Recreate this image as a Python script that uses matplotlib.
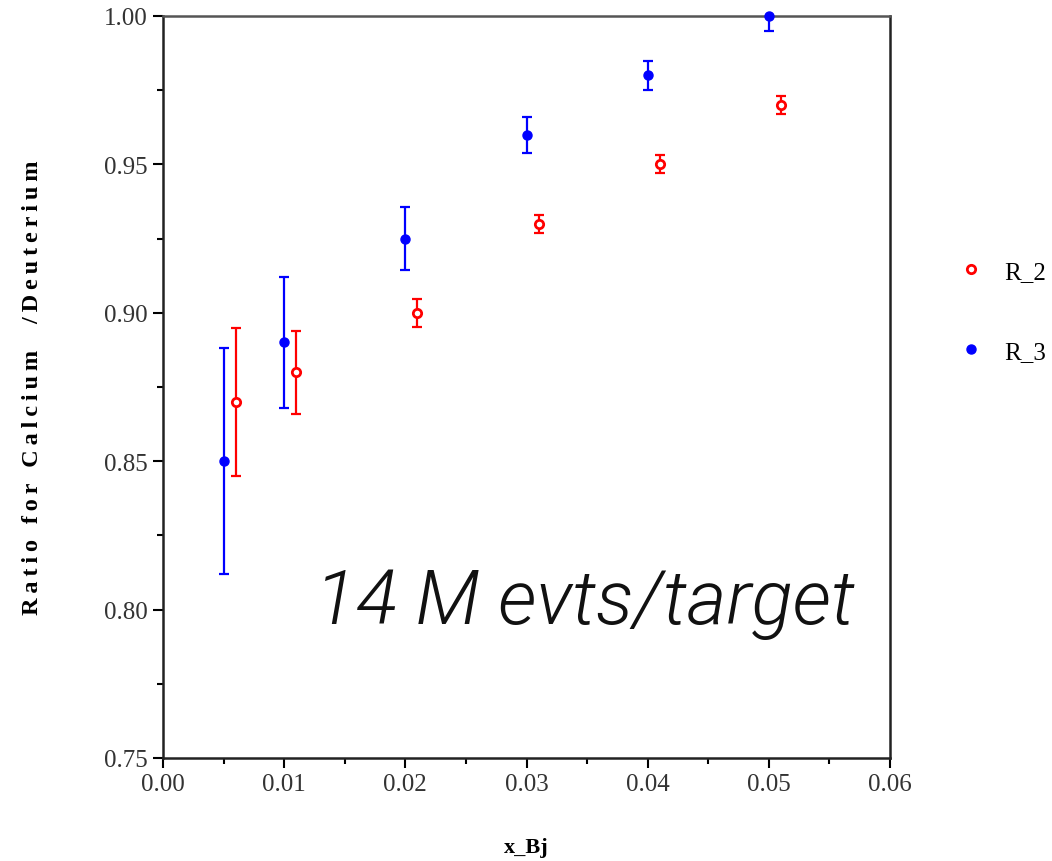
import numpy as np
import matplotlib.pyplot as plt
from matplotlib.ticker import MultipleLocator

# R_3 points (filled blue) and R_2 points (open red, shifted by 0.001 in x)
x_r3 = [0.005, 0.010, 0.020, 0.030, 0.040, 0.050]
y_r3 = [0.850, 0.890, 0.925, 0.960, 0.980, 1.000]
e_r3 = [0.038, 0.022, 0.0107, 0.006, 0.005, 0.005]

x_r2 = [0.006, 0.011, 0.021, 0.031, 0.041, 0.051]
y_r2 = [0.870, 0.880, 0.900, 0.930, 0.950, 0.970]
e_r2 = [0.025, 0.014, 0.0048, 0.003, 0.003, 0.003]

serif = ['Liberation Serif', 'DejaVu Serif']
plt.rcParams['font.family'] = serif

fig = plt.figure(figsize=(10.52, 8.62), dpi=100)
ax = fig.add_axes([0.155, 0.1195, 0.691, 0.8608])

ax.errorbar(x_r3, y_r3, yerr=e_r3, fmt='none', ecolor='#0000ff', elinewidth=1.6,
            capsize=3.5, capthick=1.6, zorder=2)
ax.plot(x_r3, y_r3, 'o', color='#0000ff', ms=6.5, label='R_3', clip_on=False, zorder=3)

ax.errorbar(x_r2, y_r2, yerr=e_r2, fmt='none', ecolor='#ff0000', elinewidth=1.6,
            capsize=3.5, capthick=1.6, zorder=2)
ax.plot(x_r2, y_r2, 'o', mfc='white', mec='#ff0000', mew=2, ms=6, label='R_2',
        clip_on=False, zorder=3)

ax.set_xlim(0.0, 0.06)
ax.set_ylim(0.75, 1.0)
ax.xaxis.set_major_locator(MultipleLocator(0.01))
ax.xaxis.set_minor_locator(MultipleLocator(0.005))
ax.yaxis.set_major_locator(MultipleLocator(0.05))
ax.yaxis.set_minor_locator(MultipleLocator(0.025))
ax.xaxis.set_major_formatter(lambda v, p: f'{v:.2f}')
ax.yaxis.set_major_formatter(lambda v, p: f'{v:.2f}')
ax.tick_params(which='major', direction='out', length=7, width=1.5, labelsize=18,
               pad=4, labelcolor='#333333')
ax.tick_params(which='minor', direction='out', length=4, width=1.5)
for s in ax.spines.values():
    s.set_linewidth(1.8)
    s.set_color('#222222')
ax.spines['top'].set_color('#555555')

ylab = '\u2009'.join('Ratio for Calcium  /Deuterium')
ax.set_ylabel(ylab, fontsize=17.5, fontweight='bold', labelpad=44)
ax.set_xlabel('x_Bj', fontsize=16, fontweight='bold', labelpad=30)

# handwritten note
ax.text(0.0125, 0.7955, '14 M evts/target', fontsize=55, fontstyle='italic',
        fontweight=300, family=['Roboto', 'Open Sans', 'DejaVu Sans'], color='#111111')

handles, labels = ax.get_legend_handles_labels()
fig.legend(handles[::-1], labels[::-1], loc='center left', bbox_to_anchor=(0.89, 0.637),
           frameon=False, fontsize=18, handletextpad=0.8, labelspacing=2.3,
           handlelength=1.0)

fig.savefig('out.png', dpi=100)
